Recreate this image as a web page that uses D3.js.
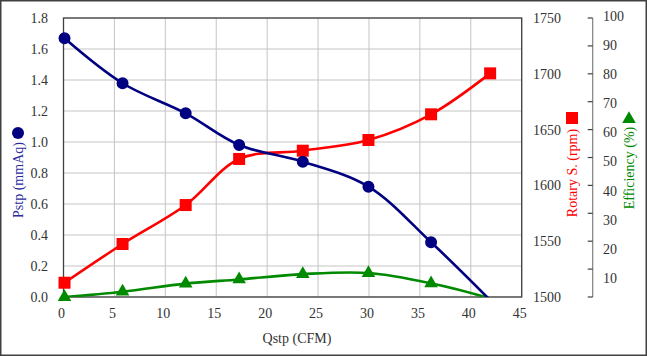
<!DOCTYPE html>
<html><head><meta charset="utf-8">
<script src="https://cdn.jsdelivr.net/npm/d3@7"></script>
<style>
html,body{margin:0;padding:0;background:#fff;}
</style></head>
<body>
<svg id="chart" width="647" height="356" font-family="'Liberation Serif', 'Times New Roman', Times, serif"></svg>
<script>
// ---- data ----
const qstp       = [0.1, 5.8, 12.0, 17.25, 23.5, 29.95, 36.1, 41.9];
const pstp       = [1.669, 1.379, 1.185, 0.981, 0.873, 0.712, 0.353, -0.02];
const rotary     = [1512.8, 1547.5, 1582.4, 1623.7, 1631.1, 1640.7, 1663.7, 1700.4];
const efficiency = [0, 1.9, 4.8, 6.3, 8.2, 8.6, 4.9, -0.5];
const xTicks     = [0, 5, 10, 15, 20, 25, 30, 35, 40, 45];
const pTicks     = [0, 0.2, 0.4, 0.6, 0.8, 1.0, 1.2, 1.4, 1.6, 1.8];
const rTicks     = [1500, 1550, 1600, 1650, 1700, 1750];
const eTicks     = [0, 10, 20, 30, 40, 50, 60, 70, 80, 90, 100];
const eLabels    = [10, 20, 30, 40, 50, 60, 70, 80, 90, 100];

const svg = d3.select("#chart");
const FONT = "'Liberation Serif', 'Times New Roman', Times, serif";
const L = 63.5, R = 521.7, T = 18, B = 297;
const x  = d3.scaleLinear().domain([0, 45]).range([L, R]);
const yP = d3.scaleLinear().domain([0, 1.8]).range([B, T]);
const yR = d3.scaleLinear().domain([1500, 1750]).range([B, T]);
const yE = d3.scaleLinear().domain([0, 100]).range([B, T]);
const yELab = d3.scaleLinear().domain([0, 100]).range([307, 16]);

const txt = "#333";
const navy = "#000080", red = "#ff0000", green = "#008a00";

// outer border
svg.append("rect").attr("x",0.75).attr("y",0.75).attr("width",645.5).attr("height",354.5)
  .attr("fill","none").attr("stroke","#404040").attr("stroke-width",1.5);

// grid
const g = svg.append("g");
g.selectAll(".hg").data(pTicks).join("line")
  .attr("x1",L).attr("x2",R).attr("y1",d=>yP(d)).attr("y2",d=>yP(d))
  .attr("stroke","#c4c4c4").attr("stroke-width",1);
g.selectAll(".vg").data(xTicks).join("line")
  .attr("x1",d=>x(d)).attr("x2",d=>x(d)).attr("y1",T).attr("y2",B)
  .attr("stroke","#c4c4c4").attr("stroke-width",1);

// frame
svg.append("rect").attr("x",L).attr("y",T).attr("width",R-L).attr("height",B-T)
  .attr("fill","none").attr("stroke","#404040").attr("stroke-width",1.3);

function t(sel){ return sel.attr("font-family",FONT).attr("font-size",14); }

// tick labels
t(svg.append("g").selectAll("text").data(xTicks).join("text"))
  .attr("x",d=>x(d)-2).attr("y",318).attr("text-anchor","middle")
  .attr("fill",txt).text(d=>d);
t(svg.append("g").selectAll("text").data(pTicks).join("text"))
  .attr("x",48).attr("y",d=>yP(d)).attr("dy","0.35em").attr("text-anchor","end")
  .attr("fill",txt).text(d=>d.toFixed(1));
t(svg.append("g").selectAll("text").data(rTicks).join("text"))
  .attr("x",533).attr("y",d=>yR(d)).attr("dy","0.35em").attr("text-anchor","start")
  .attr("fill",txt).text(d=>d);

// efficiency axis
const eAx = 592.7;
svg.append("line").attr("x1",eAx).attr("x2",eAx).attr("y1",yE(100)).attr("y2",yE(0))
  .attr("stroke","#808080").attr("stroke-width",1.2);
svg.append("g").selectAll("line").data(eTicks).join("line")
  .attr("x1",eAx-5).attr("x2",eAx).attr("y1",d=>yE(d)).attr("y2",d=>yE(d))
  .attr("stroke","#404040").attr("stroke-width",1.2);
t(svg.append("g").selectAll("text").data(eLabels).join("text"))
  .attr("x",603).attr("y",d=>yELab(d)).attr("dy","0.35em").attr("text-anchor","start")
  .attr("fill",txt).text(d=>d);

// axis titles
t(svg.append("text")).attr("x",297).attr("y",343).attr("text-anchor","middle")
  .attr("fill",txt).text("Qstp (CFM)");
t(svg.append("text")).attr("transform","translate(23,180) rotate(-90)").attr("text-anchor","middle")
  .attr("fill","#2b2b9b").text("Pstp (mmAq)");
svg.append("circle").attr("cx",18).attr("cy",133).attr("r",6).attr("fill",navy);
t(svg.append("text")).attr("transform","translate(577,173) rotate(-90)").attr("text-anchor","middle")
  .attr("fill",red).text("Rotary S. (rpm)");
svg.append("rect").attr("x",566).attr("y",112).attr("width",12).attr("height",12).attr("fill",red);
t(svg.append("text")).attr("transform","translate(634,168) rotate(-90)").attr("text-anchor","middle")
  .attr("fill",green).text("Efficiency (%)");
svg.append("path").attr("transform","translate(629,119)")
  .attr("d",d3.symbol().type(d3.symbolTriangle).size(80)()).attr("fill",green);

// clip
svg.append("clipPath").attr("id","clip").append("rect")
  .attr("x",L).attr("y",T-2).attr("width",R-L).attr("height",B-T+2);

const curve = d3.curveCatmullRom.alpha(0.5);
function series(vals, yS, color, marker) {
  const pts = qstp.map((q,i)=>[q, vals[i]]);
  const line = d3.line().x(d=>x(d[0])).y(d=>yS(d[1])).curve(curve);
  svg.append("path").datum(pts).attr("d",line).attr("fill","none")
    .attr("stroke",color).attr("stroke-width",2.6).attr("clip-path","url(#clip)");
  const dom = yS.domain();
  const vis = pts.filter(d=>d[1]>=dom[0] && d[1]<=dom[1]);
  svg.append("g").selectAll("path").data(vis).join("path")
    .attr("transform",d=>`translate(${x(d[0])},${yS(d[1])})`)
    .attr("d",d3.symbol().type(marker.type).size(marker.size)())
    .attr("fill",color);
}
series(efficiency, yE, green, {type:d3.symbolTriangle, size:80});
series(rotary, yR, red, {type:d3.symbolSquare, size:144});
series(pstp, yP, navy, {type:d3.symbolCircle, size:113});
</script>
</body></html>
